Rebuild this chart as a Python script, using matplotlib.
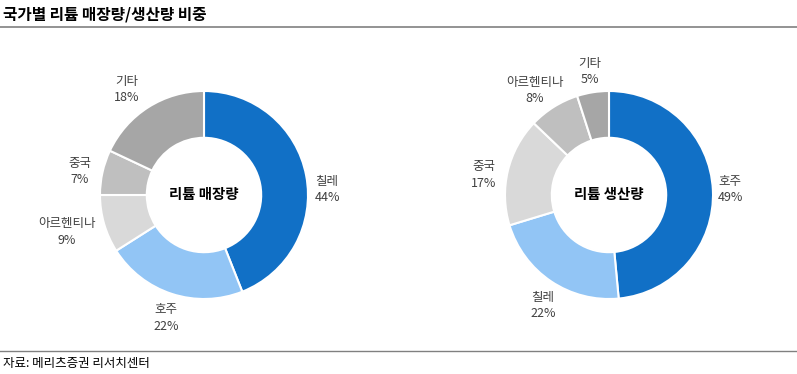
import numpy as np
import matplotlib
matplotlib.use("Agg")
import matplotlib.pyplot as plt

plt.rcParams['font.family'] = ['Noto Sans CJK KR', 'DejaVu Sans']

title = "국가별 리튬 매장량/생산량 비중"
source = "자료: 메리츠증권 리서치센터"

res_labels = ["칠레", "호주", "아르헨티나", "중국", "기타"]
res_values = [44, 22, 9, 7, 18]
res_center = "리튬 매장량"

prod_labels = ["호주", "칠레", "중국", "아르헨티나", "기타"]
prod_values = [49, 22, 17, 8, 5]
prod_center = "리튬 생산량"

colors = ["#1170C6", "#92C5F5", "#D9D9D9", "#BFBFBF", "#A6A6A6"]

# label placement: (radius, angular nudge in degrees) relative to wedge mid-angle
res_label_pos = [(1.184, -8.2), (1.238, 0.9), (1.364, -1.1), (1.213, 1.9), (1.256, 3.7)]
prod_label_pos = [(1.165, 0.0), (1.238, 3.0), (1.217, 4.3), (1.231, 3.2), (1.20, 0.0)]

W, H = 797, 374
fig = plt.figure(figsize=(W / 100, H / 100), dpi=100)

def draw(cx, cy, labels, values, center_text, label_pos):
    size = 260
    ax = fig.add_axes([(cx - size / 2) / W, (H - cy - size / 2) / H, size / W, size / H])
    wedges, _ = ax.pie(values, colors=colors, startangle=90, counterclock=False,
                       radius=1.0, wedgeprops=dict(width=0.45, edgecolor="white", linewidth=1.5))
    for w, lab, v, (r, nudge) in zip(wedges, labels, values, label_pos):
        ang = np.deg2rad((w.theta1 + w.theta2) / 2 + nudge)
        ax.text(r * np.cos(ang), r * np.sin(ang), f"{lab}\n{v}%", ha="center", va="center",
                fontsize=9, color="#404040", linespacing=1.35)
    ax.text(0, 0, center_text, ha="center", va="center", fontsize=10.4, fontweight="bold", color="#000000")
    ax.set_xlim(-1.25, 1.25)
    ax.set_ylim(-1.25, 1.25)
    ax.set_aspect("equal")
    ax.axis("off")

draw(204, 195, res_labels, res_values, res_center, res_label_pos)
draw(609, 195, prod_labels, prod_values, prod_center, prod_label_pos)

fig.text(3 / W, 1 - 15 / H, title, fontsize=11.3, fontweight="bold", ha="left", va="center", color="#000000")
fig.add_artist(plt.Line2D([0, 1], [1 - 27 / H, 1 - 27 / H], color="#808080", linewidth=1.2, transform=fig.transFigure))
fig.add_artist(plt.Line2D([0, 1], [1 - 351 / H, 1 - 351 / H], color="#808080", linewidth=1.0, transform=fig.transFigure))
fig.text(3 / W, 1 - 363 / H, source, fontsize=9, ha="left", va="center", color="#000000")

fig.savefig("out.png", dpi=100)
